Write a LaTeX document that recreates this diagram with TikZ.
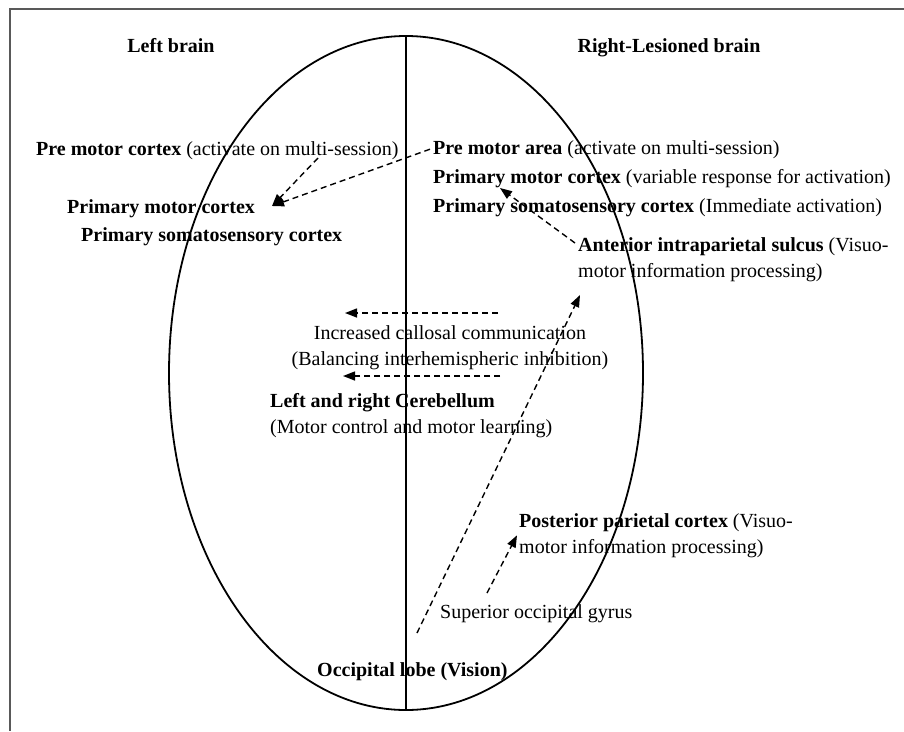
\documentclass[tikz,border=0pt]{standalone}
\usepackage{fontspec}
\setmainfont{Liberation Serif}
\usetikzlibrary{arrows.meta, positioning, shapes.geometric}

\begin{document}
\begin{tikzpicture}[
  x=1pt, y=-1pt,
  >={Triangle[length=12pt, width=9pt]},
  every node/.style={inner sep=0pt, font=\fontsize{20}{26}\selectfont},
  lbl/.style={anchor=base west},
  head/.style={anchor=base, font=\fontsize{20}{26}\selectfont\bfseries},
  flow/.style={->, dash pattern=on 6pt off 4pt, line width=1.4pt}
]
\useasboundingbox (0,0) rectangle (904,731);
\draw[black!65, line width=1.2pt] (904,9) -- (10,9) -- (10,731);

\node (brain) [draw, ellipse, line width=1.8pt, minimum width=474pt, minimum height=674pt] at (406,373) {};
\draw[line width=1.4pt] (brain.north) -- (brain.south);

% headings
\node (lb) [head] at (171,52) {Left brain};
\node (rb) [head] at (669,52) {Right-Lesioned brain};

% left hemisphere
\node (lpm) [lbl] at (36,155) {\textbf{Pre motor cortex} (activate on multi-session)};
\node (lpmc) [lbl] at (67,213) {\textbf{Primary motor cortex}};
\node (lpsc) [below=28pt of lpmc.base west, anchor=base west, xshift=14pt] {\textbf{Primary somatosensory cortex}};

% right hemisphere
\node (rpm) [lbl] at (433,154) {\textbf{Pre motor area} (activate on multi-session)};
\node (rpmc) [below=29pt of rpm.base west, anchor=base west] {\textbf{Primary motor cortex} (variable response for activation)};
\node (rpsc) [below=29pt of rpmc.base west, anchor=base west] {\textbf{Primary somatosensory cortex} (Immediate activation)};
\node (ais) [anchor=north west, align=left] at (578,237) {\textbf{Anterior intraparietal sulcus} (Visuo-\\motor information processing)};

% middle
\node (icc) [anchor=north, align=center] at (450,325) {Increased callosal communication\\(Balancing interhemispheric inhibition)};
\node (cer) [anchor=north west, align=left] at (270,393) {\textbf{Left and right Cerebellum}\\(Motor control and motor learning)};
\node (ppc) [anchor=north west, align=left] at (519,513) {\textbf{Posterior parietal cortex} (Visuo-\\motor information processing)};
\node (sog) [lbl] at (440,618) {Superior occipital gyrus};
\node (occ) [lbl, font=\fontsize{20}{26}\selectfont\bfseries] at (317,676) {Occipital lobe (Vision)};

% free ends
\coordinate (lpmtail) at (318,158);
\coordinate (motorhead) at (272,206);
\coordinate (aishead) at (500,188);
\coordinate (cctail) at (498,313);
\coordinate (cchead) at (345,313);
\coordinate (cbtail) at (500,376);
\coordinate (cbhead) at (343,376);
\coordinate (aistip) at (580,295);
\coordinate (occtail) at (417,633);
\coordinate (sogtail) at (487,593);

\draw[flow] (lpmtail) -- (motorhead);
\draw[flow] ([xshift=-3pt]rpm.west) -- (motorhead);
\draw[flow] ([shift={(-3pt,-6pt)}]ais.north west) -- (aishead);
\draw[flow] (cctail) -- (cchead);
\draw[flow] (cbtail) -- (cbhead);
\draw[flow] (occtail) -- (aistip);
\draw[flow] (sogtail) -- ([xshift=-2pt]ppc.west);
\end{tikzpicture}
\end{document}
